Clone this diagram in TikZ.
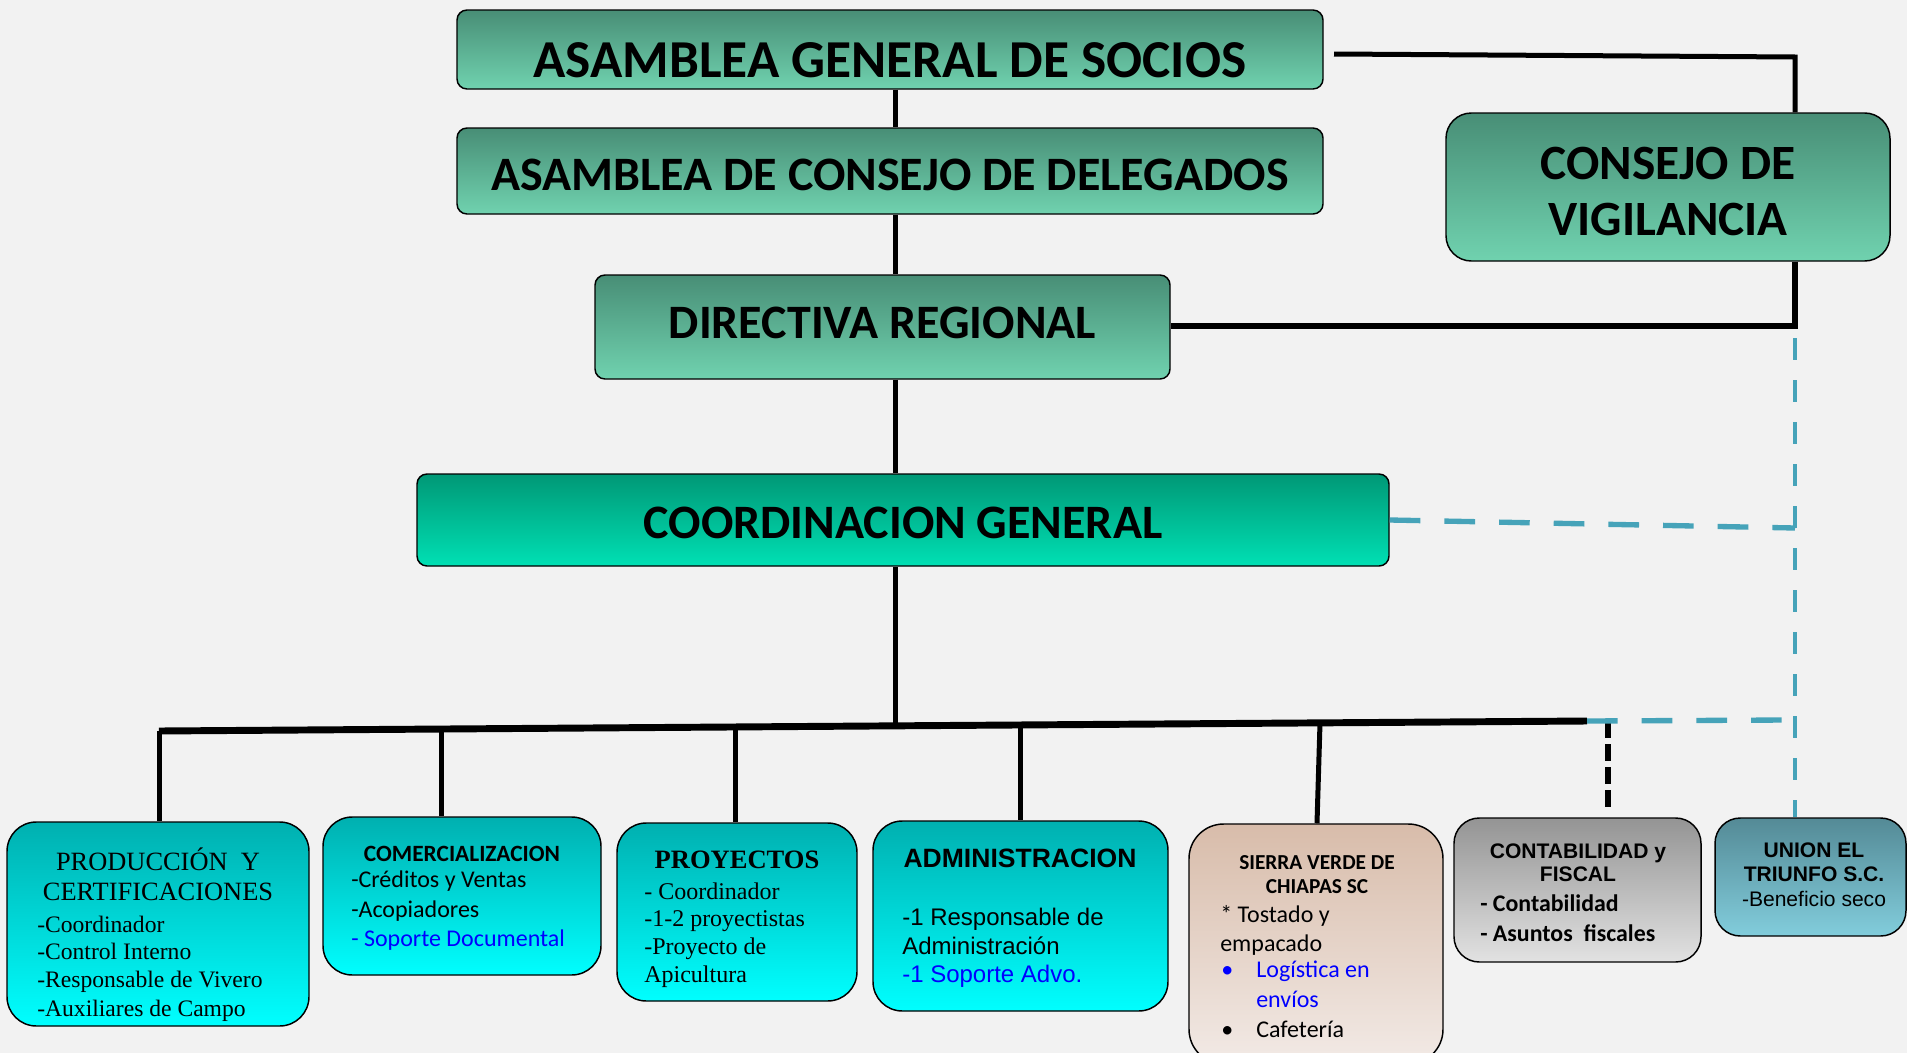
\documentclass[tikz,border=0pt]{standalone}
\usepackage{fontspec}
\setmainfont{Carlito}
\newfontfamily\timesf{Liberation Serif}
\newfontfamily\arialf{Liberation Sans}
\usetikzlibrary{fit}
\definecolor{bgc}{HTML}{F2F2F2}
\definecolor{gtop}{HTML}{488E76}
\definecolor{gbot}{HTML}{70D2AF}
\definecolor{dtop}{HTML}{009876}
\definecolor{dbot}{HTML}{00E0B4}
\definecolor{ctop}{HTML}{00B0B0}
\definecolor{cbot}{HTML}{00FFFF}
\definecolor{stop}{HTML}{D8BCAA}
\definecolor{sbot}{HTML}{F2EAE6}
\definecolor{ktop}{HTML}{949494}
\definecolor{kbot}{HTML}{E2E2E2}
\definecolor{utop}{HTML}{548A96}
\definecolor{ubot}{HTML}{82CDDC}
\definecolor{dashblue}{HTML}{46A3B9}
\definecolor{txtblue}{HTML}{0000FF}
\begin{document}
\begin{tikzpicture}[x=0.75pt,y=-0.75pt,
  box/.style={draw=black, line width=1.1pt, inner sep=0pt},
  topbox/.style={box, rounded corners=7.5pt, top color=gtop, bottom color=gbot},
  toptext/.style={inner sep=0pt, anchor=center, font=\bfseries\fontsize{36}{42}\selectfont},
  cyanbox/.style={box, rounded corners=22pt, top color=ctop, bottom color=cbot},
  conn/.style={line width=3.75pt},
  connthick/.style={line width=5.2pt},
  bdashh/.style={draw=dashblue, line width=4pt, dash pattern=on 23pt off 18pt},
  bdashv/.style={draw=dashblue, line width=3.6pt, dash pattern=on 16.5pt off 15pt},
  kdash/.style={line width=4pt, dash pattern=on 12.75pt off 4.5pt},
  tl/.style={inner sep=0pt, anchor=mid west},
  tc/.style={inner sep=0pt, anchor=mid},
  ftimes/.style={font=\timesf\fontsize{17.7}{21}\selectfont},
  fcal/.style={font=\fontsize{18}{21}\selectfont},
  farial/.style={font=\arialf\fontsize{18}{21}\selectfont},
]
\fill[bgc] (0,0) rectangle (1907,1053);
\useasboundingbox (0,0) rectangle (1907,1053);

% ---- top boxes
\node (A) [topbox, fit={(457,10) (1323,89)}] {};
\node (B) [topbox, fit={(457,128) (1323,214)}] {};
\node (C) [topbox, fit={(595,275) (1170,379)}] {};
\node (D) [topbox, top color=dtop, bottom color=dbot, fit={(417,474) (1389,566)}] {};
\node (V) [topbox, rounded corners=19pt, fit={(1446,113) (1890,261)}] {};

\node (At) [toptext, font=\bfseries\fontsize{40}{46}\selectfont, yshift=-8.25pt] at (A.center) {ASAMBLEA GENERAL DE SOCIOS};
\node (Bt) [toptext, yshift=-3pt] at (B.center) {ASAMBLEA DE CONSEJO DE DELEGADOS};
\node (Ct0) [toptext, yshift=3.4pt] at (C.center) {DIRECTIVA REGIONAL};
\node (Dt) [toptext, yshift=-2.25pt] at (D.center) {COORDINACION GENERAL};
\node (Vt) [toptext, align=center, font=\bfseries\fontsize{37}{42}\selectfont, yshift=-3pt] at (V.center) {CONSEJO DE\\VIGILANCIA};

% ---- bottom boxes
\node (P)  [cyanbox, fit={(7,822) (309,1026)}] {};
\node (Cm) [cyanbox, fit={(323,817) (601,975)}] {};
\node (Pr) [cyanbox, fit={(617,823) (857,1001)}] {};
\node (Ad) [cyanbox, fit={(873,821) (1168,1011)}] {};
\node (S)  [box, rounded corners=26pt, top color=stop, bottom color=sbot, fit={(1189,824) (1443,1064)}] {};
\node (Ct) [box, rounded corners=19pt, top color=ktop, bottom color=kbot, fit={(1454,818) (1701,962)}] {};
\node (U)  [box, rounded corners=19pt, top color=utop, bottom color=ubot, fit={(1715,818) (1906,936)}] {};

% ---- coordinates for connectors
\coordinate (cx) at (895,0);
\coordinate (busL) at (159,731);
\coordinate (busM) at (895,726);
\coordinate (busR) at (1587,721);
\coordinate (busE) at (1788,720);
\coordinate (t1) at (1334,54);
\coordinate (t2) at (1795,57);
\coordinate (t3) at (1795,326);
\coordinate (t4) at (1795,338);
\coordinate (t5) at (1795,528);
\coordinate (d2) at (441,729);
\coordinate (d3) at (735,727);
\coordinate (d4) at (1020,725);
\coordinate (d5) at (1320,723);
\coordinate (d5b) at (1317,0);
\coordinate (d6) at (1608,721);
\coordinate (d6b) at (1608,812);

% ---- connectors
\draw[conn] (A.south -| cx) -- (B.north -| cx);
\draw[conn] (B.south -| cx) -- (C.north -| cx);
\draw[conn] (C.south -| cx) -- (D.north -| cx);
\draw[conn] (D.south -| cx) -- (busM);
\draw[connthick] (busL) -- (busR);
\draw[conn] (t1) -- (t2) -- (t2 |- V.north);
\draw[connthick] (V.south -| t3) -- (t3) -- (t3 -| C.east);
\draw[conn] (busL) -- (busL |- P.north);
\draw[conn] (d2) -- (d2 |- Cm.north);
\draw[conn] (d3) -- (d3 |- Pr.north);
\draw[conn] (d4) -- (d4 |- Ad.north);
\draw[conn] (d5) -- (S.north -| d5b);
\draw[kdash] (d6) -- (d6b);
\draw[bdashv] (t4) -- (t4 |- U.north);
\draw[bdashh] (D.east) -- (t5);
\draw[bdashh] (busR) -- (busE);

% ---- PRODUCCION
\node (p0) [tc, font=\timesf\fontsize{19.8}{23}\selectfont] at (158,867) {PRODUCCIÓN~~Y};
\node (p1) [tc, font=\timesf\fontsize{19.8}{23}\selectfont] at (158,897) {CERTIFICACIONES};
\node (p2) [tl, ftimes] at (37,929) {-Coordinador};
\node (p3) [tl, ftimes] at (37,956) {-Control Interno};
\node (p4) [tl, ftimes] at (37,984) {-Responsable de Vivero};
\node (p5) [tl, ftimes] at (37,1013) {-Auxiliares de Campo};

% ---- COMERCIALIZACION
\node (c0) [tc, font=\bfseries\fontsize{17.5}{21}\selectfont] at (462,858) {COMERCIALIZACION};
\node (c1) [tl, fcal] at (351,884) {-Créditos y Ventas};
\node (c2) [tl, fcal] at (351,914) {-Acopiadores};
\node (c3) [tl, fcal, text=txtblue] at (351,943) {- Soporte Documental};

% ---- PROYECTOS
\node (r0) [tc, font=\timesf\bfseries\fontsize{19.9}{23}\selectfont] at (737,865) {PROYECTOS};
\node (r1) [tl, font=\timesf\fontsize{18}{21}\selectfont] at (644,896) {- Coordinador};
\node (r2) [tl, font=\timesf\fontsize{18}{21}\selectfont] at (644,923) {-1-2 proyectistas};
\node (r3) [tl, font=\timesf\fontsize{18}{21}\selectfont] at (644,951) {-Proyecto de};
\node (r4) [tl, font=\timesf\fontsize{18}{21}\selectfont] at (644,979) {Apicultura};

% ---- ADMINISTRACION
\node (a0) [tc, font=\arialf\bfseries\fontsize{19.9}{23}\selectfont] at (1020,864) {ADMINISTRACION};
\node (a1) [tl, farial] at (902,922) {-1 Responsable de};
\node (a2) [tl, farial] at (902,951) {Administración};
\node (a3) [tl, farial, text=txtblue] at (902,979) {-1 Soporte Advo.};

% ---- SIERRA VERDE
\node (s0) [tc, font=\bfseries\fontsize{16}{19}\selectfont] at (1317,866) {SIERRA VERDE DE};
\node (s1) [tc, font=\bfseries\fontsize{16}{19}\selectfont] at (1317,890) {CHIAPAS SC};
\node (s2) [tl, fcal] at (1220,919) {* Tostado y};
\node (s3) [tl, fcal] at (1220,948) {empacado};
\node (s4) [tl, fcal, text=txtblue] at (1221,974) {•};
\node (s5) [tl, fcal, text=txtblue] at (1256,974) {Logística en};
\node (s6) [tl, fcal, text=txtblue] at (1256,1004) {envíos};
\node (s7) [tl, fcal] at (1221,1034) {•};
\node (s8) [tl, fcal] at (1256,1034) {Cafetería};

% ---- CONTABILIDAD
\node (k0) [tc, font=\arialf\bfseries\fontsize{15.8}{19}\selectfont] at (1578,855) {CONTABILIDAD y};
\node (k1) [tc, font=\arialf\bfseries\fontsize{15.8}{19}\selectfont] at (1578,878) {FISCAL};
\node (k2) [tl, font=\bfseries\fontsize{17.9}{21}\selectfont] at (1480,908) {- Contabilidad};
\node (k3) [tl, font=\bfseries\fontsize{17.9}{21}\selectfont] at (1480,938) {- Asuntos~~fiscales};

% ---- UNION
\node (u0) [tc, font=\arialf\bfseries\fontsize{15.8}{19}\selectfont] at (1814,854) {UNION EL};
\node (u1) [tc, font=\arialf\bfseries\fontsize{15.8}{19}\selectfont] at (1814,878) {TRIUNFO S.C.};
\node (u2) [tc, font=\arialf\fontsize{15.8}{19}\selectfont] at (1814,903) {-Beneficio seco};
\end{tikzpicture}
\end{document}
